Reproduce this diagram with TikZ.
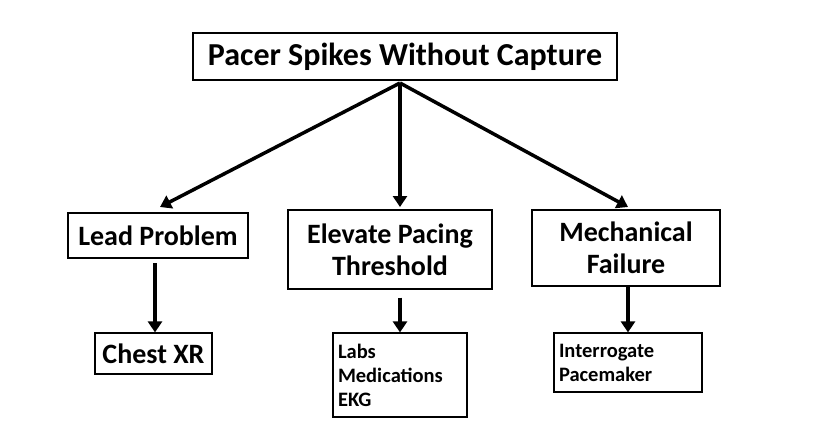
\documentclass[tikz,border=0pt]{standalone}
\usepackage{fontspec}
\setmainfont{Carlito}
\usetikzlibrary{arrows.meta}
\begin{document}
\begin{tikzpicture}[x=1pt,y=-1pt,
  box/.style={draw=black,line width=1.2pt,fill=white,inner sep=2pt,align=center,font=\bfseries},
  arr/.style={line width=3.5pt,-{Triangle[length=11pt,width=14pt]}}]
\useasboundingbox[fill=white] (0,0) rectangle (827,442);
\node[box,minimum width=424pt,minimum height=47pt,font=\bfseries\fontsize{32}{36}\selectfont] (top) at (405,56.5) {Pacer Spikes Without Capture};
\node[box,minimum width=180pt,minimum height=45pt,font=\bfseries\fontsize{28}{32}\selectfont] (lead) at (158,235.5) {Lead Problem};
\node[box,minimum width=204pt,minimum height=79pt,font=\bfseries\fontsize{28}{32}\selectfont] (elev) at (390,249.5) {Elevate Pacing\\Threshold};
\node[box,minimum width=188pt,minimum height=76pt,font=\bfseries\fontsize{28}{32}\selectfont] (mech) at (626,248) {Mechanical\\Failure};
\node[box,minimum width=117pt,minimum height=41pt,font=\bfseries\fontsize{28}{32}\selectfont] (chest) at (153.5,353.5) {Chest XR};
\node[box,minimum width=134pt,minimum height=84pt,align=left,font=\bfseries\fontsize{20.5}{24}\selectfont,text width=124pt] (labs) at (400,375) {Labs\\Medications\\EKG};
\node[box,minimum width=148pt,minimum height=59pt,align=left,font=\bfseries\fontsize{20.5}{24}\selectfont,text width=138pt] (inter) at (628,362.5) {Interrogate\\Pacemaker};
\coordinate (hub) at (400,83);
\draw[arr] (hub) -- (160,207);
\draw[arr] (hub) -- (400,207);
\draw[arr] (hub) -- (628,207);
\draw[arr] (155,263) -- (chest.north -| 155,0);
\draw[arr] (elev.south -| 400,0) ++(0,8) -- (labs.north -| 400,0);
\draw[arr] (mech.south -| 628,0) -- (inter.north -| 628,0);
\end{tikzpicture}
\end{document}
